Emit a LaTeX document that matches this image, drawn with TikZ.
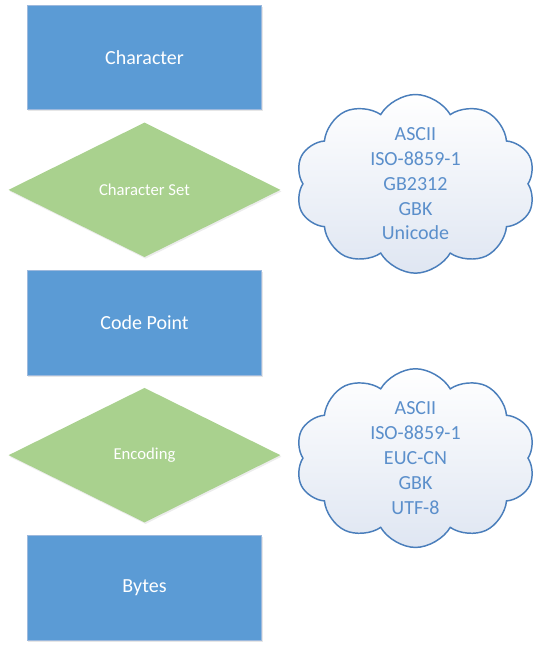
\documentclass[tikz,border=0pt]{standalone}
\usepackage{fontspec}
\setmainfont{Carlito}
\usetikzlibrary{shapes,shadows,positioning}
\definecolor{boxblue}{HTML}{5B9BD5}
\definecolor{boxedge}{HTML}{9DB9DD}
\definecolor{choicegreen}{HTML}{A9D18E}
\definecolor{cloudedge}{HTML}{4A7EBB}
\definecolor{cloudfill}{HTML}{DFE6F2}
\definecolor{cloudtext}{HTML}{5B8FCB}

\begin{document}
\begin{tikzpicture}[x=.75pt,y=-.75pt,
    stage/.style={rectangle,fill=boxblue,draw=boxedge,line width=.6pt,minimum width=176pt,minimum height=78.5pt,
      text=white,font=\fontsize{15}{18}\selectfont,drop shadow={opacity=.2,shadow xshift=.8pt,shadow yshift=-1.2pt}},
    choice/.style={diamond,fill=choicegreen,minimum width=204pt,minimum height=101pt,inner sep=0pt,
      text=white,font=\fontsize{12.5}{15}\selectfont,drop shadow={opacity=.15,shadow xshift=.8pt,shadow yshift=-1.2pt}},
    puff/.style={cloud,cloud puffs=10,cloud puff arc=120,cloud ignores aspect,minimum width=180pt,minimum height=134pt,
      draw=cloudedge,line width=1.1pt,top color=white,bottom color=cloudfill},
    members/.style={align=center,text=cloudtext,font=\fontsize{15}{18.6}\selectfont}]
    \useasboundingbox (0,0) rectangle (536,655);
    % main column
    \node[stage] (char) at (144.5,57.5) {Character};
    \node[choice,below=9pt of char] (charset) {Character Set};
    \node[stage,below=9.5pt of charset] (point) {Code Point};
    \node[choice,below=9pt of point] (enc) {Encoding};
    \node[stage,below=9.5pt of enc] (bytes) {Bytes};
    % clouds
    \node[puff,right=16pt of charset,yshift=4.5pt] (setcloud) {};
    \node[members] (settext) at (setcloud.center) {ASCII\\ISO-8859-1\\GB2312\\GBK\\Unicode};
    \node[puff,right=16pt of enc,yshift=-2.2pt] (enccloud) {};
    \node[members] (enctext) at (enccloud.center) {ASCII\\ISO-8859-1\\EUC-CN\\GBK\\UTF-8};
  \end{tikzpicture}
\end{document}
